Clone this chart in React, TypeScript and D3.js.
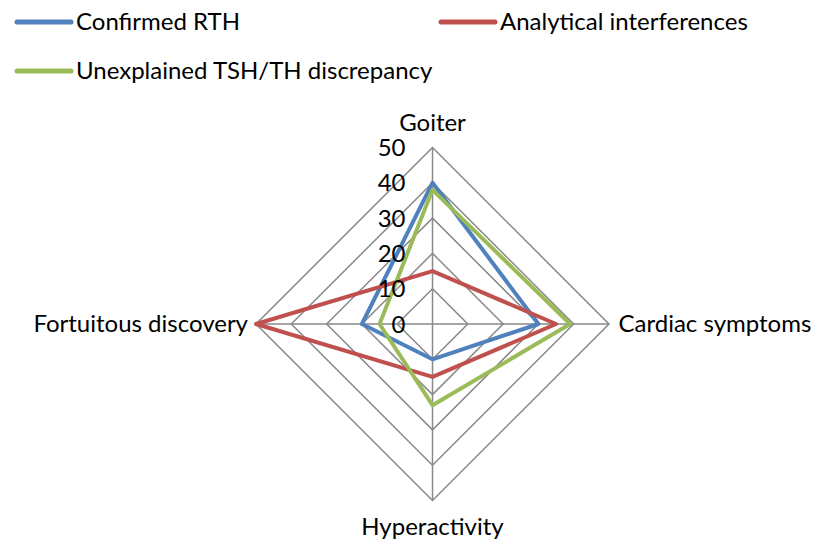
import React from "react";
import * as d3 from "d3";

const categories = ["Goiter", "Cardiac symptoms", "Hyperactivity", "Fortuitous discovery"];
const seriesNames = ["Confirmed RTH", "Analytical interferences", "Unexplained TSH/TH discrepancy"];
const confirmedRTH = [40, 30, 10, 20];
const analyticalInterferences = [15, 35, 15, 50];
const unexplained = [38, 39, 23, 15];
const ticks = [0, 10, 20, 30, 40, 50];
const colors = ["#4F81BD", "#C0504D", "#9BBB59"];

const W = 819;
const H = 539;
const cx = 432.5;
const cy = 324;
const R = 176.5;
const FONT = "Lato, 'Open Sans', sans-serif";

export default function App() {
  const r = d3.scaleLinear().domain([0, 50]).range([0, R]);
  const angle = d3
    .scalePoint<number>()
    .domain(d3.range(categories.length))
    .range([0, 2 * Math.PI * (categories.length - 1) / categories.length]);
  const line = d3
    .lineRadial<number>()
    .angle((_, i) => angle(i) as number)
    .radius((d) => r(d))
    .curve(d3.curveLinearClosed);
  const allSeries = [confirmedRTH, analyticalInterferences, unexplained];
  const pt = (i: number, v: number) => {
    const a = angle(i) as number;
    return [Math.sin(a) * r(v), -Math.cos(a) * r(v)];
  };
  const labelPos = [
    { x: 0, y: -193, anchor: "middle" },
    { x: R + 9.5, y: 8, anchor: "start" },
    { x: 0, y: R + 34, anchor: "middle" },
    { x: -R - 8, y: 8, anchor: "end" },
  ];
  const legend = [
    { x: 17, y: 22 },
    { x: 441, y: 22 },
    { x: 17, y: 71 },
  ];
  return (
    <svg width={W} height={H} style={{ position: "absolute", left: 0, top: 0, background: "#fff" }}>
      {legend.map((l, i) => (
        <g key={i}>
          <line x1={l.x} x2={l.x + 54} y1={l.y} y2={l.y} stroke={colors[i]} strokeWidth={5} strokeLinecap="round" />
          <text x={l.x + 59} y={l.y + 8} fontFamily={FONT} fontSize={24} fill="#000">
            {seriesNames[i]}
          </text>
        </g>
      ))}
      <g transform={`translate(${cx},${cy})`}>
        {ticks.slice(1).map((t) => (
          <path
            key={t}
            d={line(categories.map(() => t)) || ""}
            fill="none"
            stroke="#898989"
            strokeWidth={1.5}
          />
        ))}
        {categories.map((_, i) => {
          const [x, y] = pt(i, 50);
          return <line key={i} x1={0} y1={0} x2={x} y2={y} stroke="#898989" strokeWidth={1.5} />;
        })}
        {allSeries.map((s, i) => (
          <path
            key={i}
            d={line(s) || ""}
            fill="none"
            stroke={colors[i]}
            strokeWidth={4}
            strokeLinejoin="round"
          />
        ))}
        {ticks.map((t) => (
          <text
            key={t}
            x={-27}
            y={-r(t) + 8.5}
            textAnchor="end"
            fontFamily={FONT}
            fontSize={24}
            fill="#000"
          >
            {t}
          </text>
        ))}
        {categories.map((c, i) => (
          <text
            key={c}
            x={labelPos[i].x}
            y={labelPos[i].y}
            textAnchor={labelPos[i].anchor as any}
            fontFamily={FONT}
            fontSize={24}
            fill="#000"
          >
            {c}
          </text>
        ))}
      </g>
    </svg>
  );
}
